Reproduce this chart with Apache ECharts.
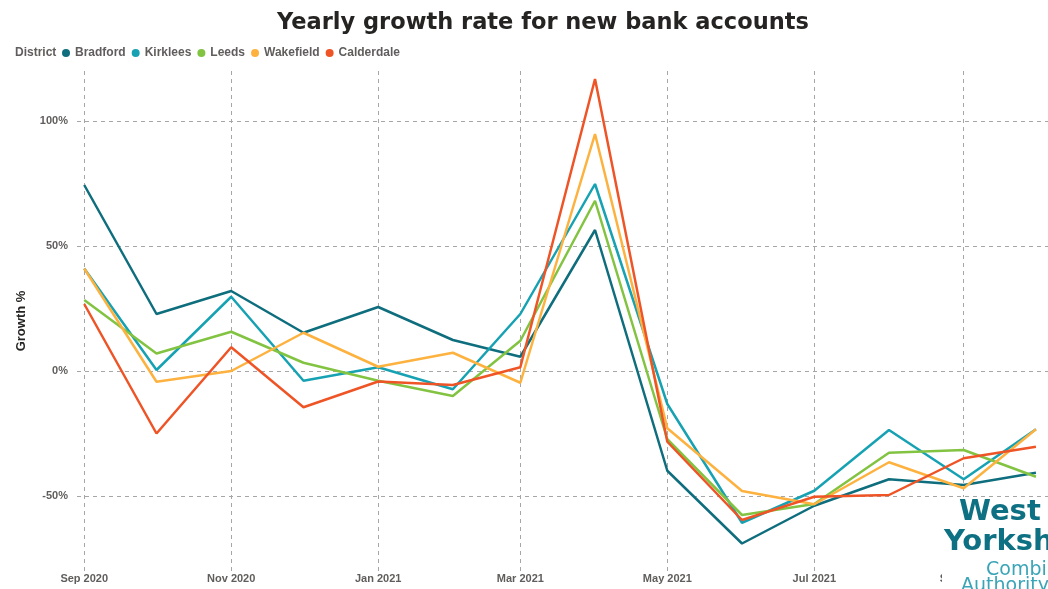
<!DOCTYPE html>
<html>
<head>
<meta charset="utf-8">
<script src="https://cdn.jsdelivr.net/npm/echarts@6/dist/echarts.min.js"></script>
<style>
html,body{margin:0;padding:0;background:#fff;}
#chart{width:1048px;height:589px;}
</style>
</head>
<body>
<div id="chart"></div>
<script>
const months = ['2020-09-01','2020-10-01','2020-11-01','2020-12-01','2021-01-01','2021-02-01','2021-03-01','2021-04-01','2021-05-01','2021-06-01','2021-07-01','2021-08-01','2021-09-01','2021-10-01'];
const xTickDates = ['2020-09-01','2020-11-01','2021-01-01','2021-03-01','2021-05-01','2021-07-01','2021-09-01'];
const xRange = ['2020-08-29','2021-10-06'];
const yTicks = [-50, 0, 50, 100];
const districts = ['Bradford','Kirklees','Leeds','Wakefield','Calderdale'];
const bradford   = [74.4, 22.8, 32.0, 15.3, 25.6, 12.4, 5.7, 56.4, -39.9, -69.0, -53.9, -43.3, -45.6, -40.7];
const kirklees   = [41.0, 0.4, 29.7, -3.9, 1.5, -7.3, 22.8, 74.8, -13.2, -60.7, -47.9, -23.6, -43.3, -23.3];
const leeds      = [28.4, 7.0, 15.7, 3.3, -3.9, -10.0, 12.1, 68.1, -27.3, -57.6, -53.2, -32.7, -31.6, -42.3];
const wakefield  = [41.0, -4.3, 0.0, 15.3, 1.7, 7.3, -4.7, 94.8, -22.9, -48.0, -53.3, -36.5, -46.9, -23.3];
const calderdale = [26.8, -25.0, 9.5, -14.5, -4.2, -5.6, 1.5, 116.8, -28.3, -59.6, -50.3, -49.6, -34.9, -30.3];

const seriesValues = [bradford, kirklees, leeds, wakefield, calderdale];
const colors = ['#0F6E7D','#17A2B3','#82C341','#FDB23F','#EF5426'];
const monNames = ['Jan','Feb','Mar','Apr','May','Jun','Jul','Aug','Sep','Oct','Nov','Dec'];

const DAY = 86400000;
const base = Date.parse(months[0]);
function toDay(s){ return Math.round((Date.parse(s) - base) / DAY); }
function dayLabel(v){ const d = new Date(base + v * DAY); return monNames[d.getUTCMonth()] + ' ' + d.getUTCFullYear(); }

const chart = echarts.init(document.getElementById('chart'), null, {renderer:'canvas'});
const gridLine = {show:true, lineStyle:{color:'#A6A6A6', type:[4,4], width:1}};
const xTicks = xTickDates.map(toDay);
const option = {
  animation:false,
  color: colors,
  title: {
    text:'Yearly growth rate for new bank accounts',
    left:272, top:7,
    textStyle:{fontFamily:'DejaVu Sans', fontWeight:'bold', fontSize:22.5, color:'#252423'}
  },
  legend: {
    data: districts,
    left: 62, top: 47, padding: 0,
    icon:'circle', itemWidth:8, itemHeight:8, itemGap:6,
    textStyle:{fontFamily:'Liberation Sans', fontWeight:'bold', fontSize:12, color:'#605E5C'}
  },
  grid: {left:77, right:0, top:71, bottom:18, containLabel:false},
  xAxis: {
    type:'value',
    min:toDay(xRange[0]), max:toDay(xRange[1]),
    axisLine:{show:false}, axisTick:{show:false, customValues:xTicks},
    axisLabel:{
      customValues:xTicks,
      margin:2,
      fontFamily:'Liberation Sans', fontWeight:'bold', fontSize:11, color:'#605E5C',
      formatter: function(v){ return dayLabel(v); }
    },
    splitLine: gridLine
  },
  yAxis: {
    type:'value', min:-80, max:120,
    name:'Growth %', nameLocation:'middle', nameGap:49,
    nameTextStyle:{fontFamily:'Liberation Sans', fontWeight:'bold', fontSize:13, color:'#252423'},
    axisLine:{show:false}, axisTick:{show:false, customValues:yTicks},
    axisLabel:{
      customValues:yTicks, margin:9,
      fontFamily:'Liberation Sans', fontWeight:'bold', fontSize:11, color:'#605E5C',
      formatter: function(v){ return v + '%'; }
    },
    splitLine: gridLine
  },
  graphic: [
    {type:'text', left:15, top:47, style:{text:'District', font:'bold 12px "Liberation Sans"', fill:'#605E5C'}},
    {type:'rect', left:942, top:497, shape:{width:106, height:92}, style:{fill:'#ffffff'}, z:100},
    {type:'text', x:959, y:512, style:{text:'West', font:'bold 29px "DejaVu Sans"', fill:'#0E7083', verticalAlign:'middle', lineHeight:29}, z:101},
    {type:'text', x:944, y:542, style:{text:'Yorkshire', font:'bold 29px "DejaVu Sans"', fill:'#0E7083', verticalAlign:'middle', lineHeight:29}, z:101},
    {type:'text', x:986, y:570, style:{text:'Combined', font:'19px "DejaVu Sans"', fill:'#3AA5B7', verticalAlign:'middle', lineHeight:19}, z:101},
    {type:'text', x:961, y:586, style:{text:'Authority', font:'19px "DejaVu Sans"', fill:'#3AA5B7', verticalAlign:'middle', lineHeight:19}, z:101}
  ],
  series: districts.map(function(name, i){
    return {
      name: name, type:'line', showSymbol:false, symbol:'circle',
      lineStyle:{width:2.5, color:colors[i]}, itemStyle:{color:colors[i]},
      data: months.map(function(m, j){ return [toDay(m), seriesValues[i][j]]; })
    };
  })
};
chart.setOption(option);
</script>
</body>
</html>
